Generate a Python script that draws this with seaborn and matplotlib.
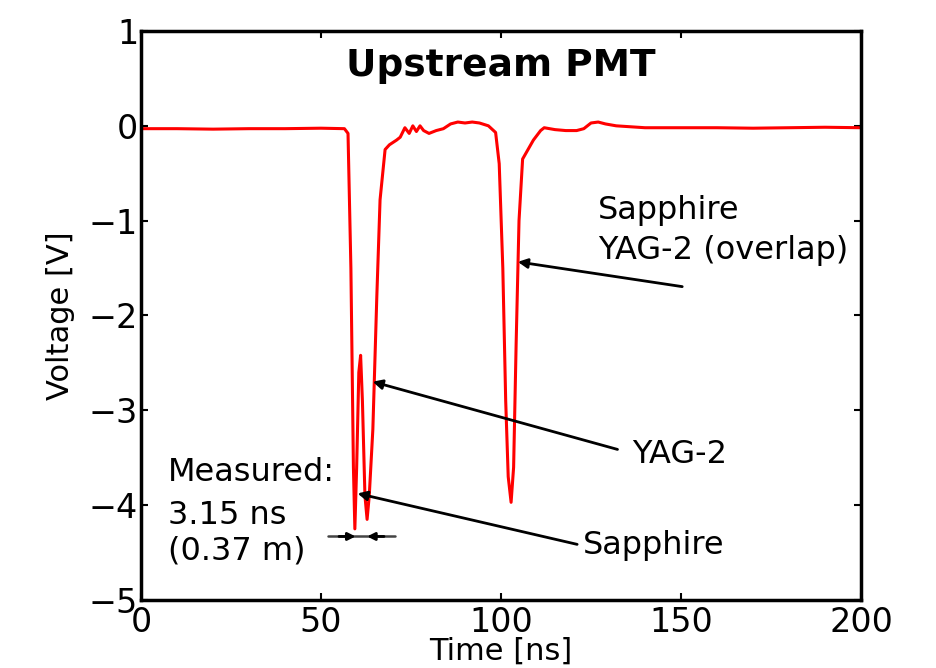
import matplotlib
matplotlib.use("Agg")
import matplotlib.pyplot as plt
import seaborn as sns
import pandas as pd

# Upstream PMT trace: time [ns] and voltage [V]
time_ns = [0, 10, 20, 30, 40, 50, 56.5, 57.5, 58.3, 59.0, 59.4, 59.9, 60.5, 61.0,
           61.5, 62.2, 62.8, 63.4, 64.4, 65.5, 66.4, 67.8, 69.0, 71.0, 72.0, 73.3,
           74.5, 75.5, 76.5, 77.5, 78.5, 80, 82, 84, 86, 88, 90, 92, 94, 96.5,
           98.5, 99.5, 100.5, 101.3, 102.0, 102.8, 103.5, 104.2, 105.0, 106.0,
           107.5, 109, 111, 112, 115, 118, 121, 123, 125, 127, 129, 132, 136,
           140, 150, 160, 170, 180, 190, 200]
voltage_v = [-0.03, -0.03, -0.035, -0.03, -0.03, -0.025, -0.03, -0.08, -1.5, -3.6,
             -4.25, -3.6, -2.6, -2.42, -2.9, -3.9, -4.15, -3.9, -3.2, -1.8, -0.78,
             -0.25, -0.2, -0.15, -0.12, -0.02, -0.08, 0.0, -0.06, 0.0, -0.05, -0.08,
             -0.05, -0.03, 0.02, 0.04, 0.03, 0.04, 0.03, 0.0, -0.07, -0.4, -1.5,
             -2.9, -3.7, -3.97, -3.6, -2.3, -1.0, -0.35, -0.25, -0.15, -0.05, -0.02,
             -0.04, -0.05, -0.05, -0.03, 0.03, 0.04, 0.02, 0.0, -0.01, -0.02, -0.02,
             -0.02, -0.025, -0.02, -0.015, -0.02]

x_ticks = [0, 50, 100, 150, 200]
y_ticks = [-5, -4, -3, -2, -1, 0, 1]

df = pd.DataFrame({"Time [ns]": time_ns, "Voltage [V]": voltage_v})

sns.set_style("ticks")
plt.rcParams["font.family"] = ["DejaVu Sans"]
plt.rcParams["text.color"] = "black"
plt.rcParams["axes.labelcolor"] = "black"
plt.rcParams["xtick.color"] = "black"
plt.rcParams["ytick.color"] = "black"

fig = plt.figure(figsize=(9.37, 6.68), dpi=100)
ax = fig.add_axes([0.1505, 0.1018, 0.7684, 0.8518])

sns.lineplot(data=df, x="Time [ns]", y="Voltage [V]", color="red", lw=2.2,
             ax=ax, sort=False, estimator=None)

ax.set_xlim(0, 200)
ax.set_ylim(-5, 1)
ax.set_xticks(x_ticks)
ax.set_yticks(y_ticks)
ax.tick_params(direction="in", length=5, width=1.5, labelsize=24,
               top=True, right=True)
ax.tick_params(axis="x", pad=4)
ax.tick_params(axis="y", pad=2)
for s in ax.spines.values():
    s.set_linewidth(2.5)
    s.set_color("black")
ax.set_xlabel("Time [ns]", fontsize=22, labelpad=-1)
ax.set_ylabel("Voltage [V]", fontsize=22, labelpad=10)

ax.text(100, 0.63, "Upstream PMT", ha="center", va="center",
        fontsize=27, fontweight="bold")

arrow = dict(arrowstyle="-|>", color="black", lw=2, mutation_scale=14)
fs = 23
ax.annotate("", xy=(103.9, -1.43), xytext=(151.1, -1.70), arrowprops=arrow)
ax.text(127, -0.89, "Sapphire", fontsize=fs, va="center", ha="left")
ax.text(127, -1.31, "YAG-2 (overlap)", fontsize=fs, va="center", ha="left")

ax.annotate("", xy=(63.6, -2.69), xytext=(133.1, -3.42), arrowprops=arrow)
ax.text(136.4, -3.47, "YAG-2", fontsize=fs, va="center", ha="left")

ax.annotate("", xy=(59.4, -3.87), xytext=(121.9, -4.42), arrowprops=arrow)
ax.text(122.8, -4.43, "Sapphire", fontsize=fs, va="center", ha="left")

ax.text(7.5, -3.66, "Measured:", fontsize=fs, va="center", ha="left")
ax.text(7.5, -4.11, "3.15 ns", fontsize=fs, va="center", ha="left")
ax.text(7.5, -4.48, "(0.37 m)", fontsize=fs, va="center", ha="left")

# pulse-separation marker: inward arrowheads joined by a thin line
ax.plot([52.0, 70.5], [-4.33, -4.33], color="#444444", lw=1.8)
small = dict(arrowstyle="-|>", color="black", lw=2, mutation_scale=11,
             shrinkA=0, shrinkB=0)
ax.annotate("", xy=(59.6, -4.33), xytext=(55.0, -4.33), arrowprops=small)
ax.annotate("", xy=(62.8, -4.33), xytext=(67.5, -4.33), arrowprops=small)

fig.savefig("out.png", dpi=100)
